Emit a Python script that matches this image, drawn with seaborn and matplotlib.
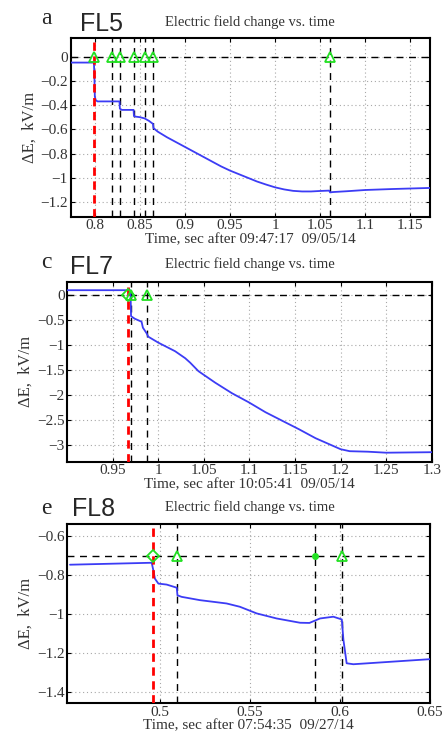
import numpy as np
import pandas as pd
import matplotlib
matplotlib.use("Agg")
import matplotlib.pyplot as plt
from matplotlib.ticker import FuncFormatter
import seaborn as sns

# ---------------- data ----------------
# Panel a (FL5)
t5 = [0.773, 0.7990, 0.7995, 0.8000, 0.8010, 0.8030, 0.8274, 0.8278, 0.8300, 0.8430, 0.8434,
      0.8450, 0.8500, 0.8552, 0.8600, 0.8645, 0.8651, 0.8700, 0.8800, 0.8900, 0.9000, 0.9100,
      0.9200, 0.9300, 0.9400, 0.9500, 0.9600, 0.9700, 0.9800, 0.9900, 1.0000, 1.0100, 1.0200,
      1.0300, 1.0400, 1.0500, 1.0600, 1.0612, 1.0640, 1.0800, 1.1000, 1.1300, 1.1720]
e5 = [-0.05, -0.05, -0.15, -0.33, -0.36, -0.37, -0.37, -0.43, -0.44, -0.44, -0.49,
      -0.495, -0.50, -0.51, -0.53, -0.555, -0.59, -0.62, -0.665, -0.705, -0.745, -0.785,
      -0.825, -0.865, -0.905, -0.94, -0.97, -1.00, -1.03, -1.055, -1.078, -1.095, -1.107,
      -1.112, -1.112, -1.108, -1.105, -1.12, -1.117, -1.11, -1.10, -1.092, -1.083]
ev5_red = 0.7992
ev5 = [0.8188, 0.8276, 0.8434, 0.8552, 0.8651, 1.0609]
ev5_markers = ["^", "^", "^", "^", "^", "^"]
ref5 = 0.0

# Panel c (FL7)
t7 = [0.90, 0.9690, 0.9696, 0.9700, 0.9740, 0.9815, 0.9830, 0.9870, 0.9889, 1.0000, 1.0183,
      1.0294, 1.0349, 1.0440, 1.0624, 1.0807, 1.0990, 1.1175, 1.1358, 1.1542, 1.1725, 1.1900,
      1.2000, 1.2100, 1.2300, 1.2500, 1.3000]
e7 = [0.10, 0.10, -0.10, -0.42, -0.47, -0.53, -0.65, -0.76, -0.83, -0.95, -1.12,
      -1.26, -1.35, -1.52, -1.75, -1.96, -2.14, -2.34, -2.51, -2.68, -2.86, -3.00,
      -3.08, -3.12, -3.13, -3.15, -3.14]
ev7_red = 0.9665
ev7 = [0.9696, 0.9880]
ev7_markers = ["^", "^"]
ref7 = 0.0

# Panel e (FL8)
t8 = [0.45, 0.4954, 0.4963, 0.4972, 0.4991, 0.5037, 0.5093, 0.5097, 0.5120, 0.5222, 0.5370,
      0.5444, 0.5537, 0.5648, 0.5778, 0.5830, 0.5889, 0.5963, 0.6010, 0.6019, 0.6037, 0.6074, 0.65]
e8 = [-0.746, -0.736, -0.775, -0.818, -0.843, -0.848, -0.864, -0.903, -0.911, -0.928, -0.945,
      -0.962, -0.996, -1.022, -1.044, -1.045, -1.022, -1.013, -1.027, -1.132, -1.252, -1.257, -1.231]
ev8_red = 0.4960
ev8 = [0.5096, 0.5860, 0.6013]
ev8_markers = ["^", ".", "^"]
ref8 = -0.7

panel_letters = ["a", "c", "e"]
panel_names = ["FL5", "FL7", "FL8"]
title_text = "Electric field change vs. time"
xlabels = ["Time, sec after 09:47:17  09/05/14",
           "Time, sec after 10:05:41  09/05/14",
           "Time, sec after 07:54:35  09/27/14"]
ylabel_text = "ΔE,  kV/m"

xticks5 = [0.8, 0.85, 0.9, 0.95, 1.0, 1.05, 1.1, 1.15]
yticks5 = [-1.2, -1.0, -0.8, -0.6, -0.4, -0.2, 0.0]
xticks7 = [0.95, 1.0, 1.05, 1.1, 1.15, 1.2, 1.25, 1.3]
yticks7 = [-3.0, -2.5, -2.0, -1.5, -1.0, -0.5, 0.0]
xticks8 = [0.5, 0.55, 0.6, 0.65]
yticks8 = [-1.4, -1.2, -1.0, -0.8, -0.6]

# ---------------- style ----------------
sns.set_style("ticks")
plt.rcParams["font.family"] = ["Liberation Serif", "DejaVu Serif"]
plt.rcParams["axes.unicode_minus"] = True

W, H = 445, 739
fig = plt.figure(figsize=(W / 100, H / 100), dpi=100)

def px_axes(l, t, r, b):
    return fig.add_axes([l / W, 1 - b / H, (r - l) / W, (b - t) / H])

def fmt(v, pos):
    s = "%g" % round(v, 4)
    return s.replace("-", "\u2212")

BLUE = "#3c3cf5"
GREEN = "#22e022"

panels = [
    dict(box=(70.5, 38.3, 430.0, 216.7), t=t5, e=e5, red=ev5_red, ev=ev5, mk=ev5_markers, red_mk="^",
         ref=ref5, xlim=(0.773, 1.172), ylim=(-1.32, 0.15), xt=xticks5, yt=yticks5,
         letter_xy=(46, 18), name_xy=(80, 31), title_xy=(250, 26), xl=xlabels[0]),
    dict(box=(67.3, 281.7, 431.7, 461.7), t=t7, e=e7, red=ev7_red, ev=ev7, mk=ev7_markers, red_mk="D",
         ref=ref7, xlim=(0.9, 1.3), ylim=(-3.33, 0.27), xt=xticks7, yt=yticks7,
         letter_xy=(46, 262), name_xy=(70, 274), title_xy=(250, 268), xl=xlabels[1]),
    dict(box=(67.3, 524.0, 430.0, 703.0), t=t8, e=e8, red=ev8_red, ev=ev8, mk=ev8_markers, red_mk="D",
         ref=ref8, xlim=(0.4485, 0.65), ylim=(-1.456, -0.537), xt=xticks8, yt=yticks8,
         letter_xy=(46, 508), name_xy=(72, 516), title_xy=(250, 511), xl=xlabels[2]),
]

for i, p in enumerate(panels):
    ax = px_axes(*p["box"])
    df = pd.DataFrame({"t": p["t"], "e": p["e"]})
    ax.grid(True, linestyle=(0, (1, 2.5)), color="#a8a8a8", linewidth=0.8)
    ax.set_axisbelow(True)
    ax.axhline(p["ref"], color="black", linestyle=(0, (5, 4)), linewidth=1.0, zorder=2)
    for x in p["ev"]:
        ax.axvline(x, color="black", linestyle=(0, (5, 4)), linewidth=1.0, zorder=2)
    sns.lineplot(data=df, x="t", y="e", ax=ax, color=BLUE, linewidth=1.3, zorder=3,
                 estimator=None, sort=False)
    ax.axvline(p["red"], color="red", linestyle=(0, (3, 2)), linewidth=2.0, zorder=4)
    # markers
    ax.plot([p["red"]], [p["ref"]], marker=p["red_mk"], linestyle="none",
            markersize=7 if p["red_mk"] == "^" else 6, mfc="none", mec=GREEN, mew=1.3, zorder=5)
    for x, m in zip(p["ev"], p["mk"]):
        if m == ".":
            ax.plot([x], [p["ref"]], marker="o", linestyle="none", markersize=4,
                    mfc=GREEN, mec=GREEN, zorder=5)
        else:
            ax.plot([x], [p["ref"]], marker=m, linestyle="none", markersize=7,
                    mfc="none", mec=GREEN, mew=1.3, zorder=5)
    ax.set_xlim(*p["xlim"])
    ax.set_ylim(*p["ylim"])
    ax.set_xticks(p["xt"])
    ax.set_yticks(p["yt"])
    ax.xaxis.set_major_formatter(FuncFormatter(fmt))
    ax.yaxis.set_major_formatter(FuncFormatter(fmt))
    ax.tick_params(direction="in", length=3, width=0.8, top=True, right=True,
                   labelsize=11, pad=2, colors="black", labelcolor="#333333")
    for s in ax.spines.values():
        s.set_linewidth(1.5)
        s.set_color("black")
    ax.set_xlabel(p["xl"], fontsize=11, labelpad=0.5, color="#333333")
    ax.set_ylabel(ylabel_text, fontsize=12, labelpad=2, color="#333333")

    lx, ly = p["letter_xy"]
    fig.text(lx / W, 1 - ly / H, panel_letters[i], fontsize=17, ha="center", va="center",
             family=["Liberation Serif"])
    nx, ny = p["name_xy"]
    fig.text(nx / W, 1 - ny / H, panel_names[i], fontsize=18, ha="left", va="baseline",
             family=["Liberation Sans", "DejaVu Sans"])
    tx, ty = p["title_xy"]
    fig.text(tx / W, 1 - ty / H, title_text, fontsize=10.5, ha="center", va="baseline",
             color="#333333")

fig.savefig("out.png", dpi=100)
